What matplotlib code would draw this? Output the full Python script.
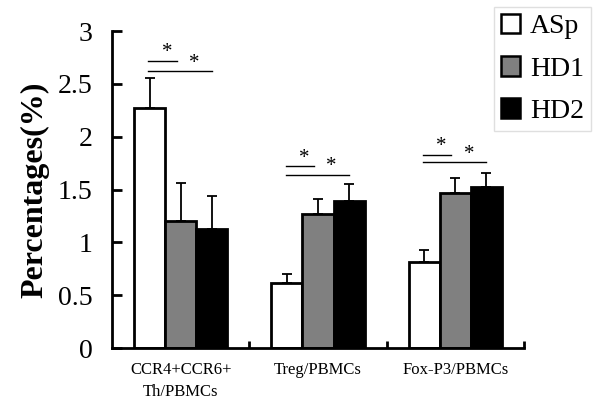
import matplotlib
matplotlib.use("Agg")
import matplotlib.pyplot as plt
import numpy as np

categories = ["CCR4+CCR6+\nTh/PBMCs", "Treg/PBMCs", "Fox-P3/PBMCs"]
series_names = ["ASp", "HD1", "HD2"]
asp = [2.27, 0.615, 0.81]
hd1 = [1.20, 1.27, 1.47]
hd2 = [1.13, 1.39, 1.52]
asp_err = [0.29, 0.085, 0.12]
hd1_err = [0.36, 0.14, 0.14]
hd2_err = [0.31, 0.16, 0.14]
yticks = [0, 0.5, 1, 1.5, 2, 2.5, 3]
ytick_labels = ["0", "0.5", "1", "1.5", "2", "2.5", "3"]
sig_short_y = [2.72, 1.72, 1.83]
sig_long_y = [2.62, 1.64, 1.76]

colors = ["white", "#808080", "black"]
plt.rcParams['font.family'] = ['Liberation Serif', 'DejaVu Serif']

fig = plt.figure(figsize=(6, 4.15), dpi=100)
ax = fig.add_axes([0.1867, 0.1614, 0.6866, 0.7636])

x = np.arange(len(categories))
w = 0.226
vals = [asp, hd1, hd2]
errs = [asp_err, hd1_err, hd2_err]
offsets = [-w, 0, w]
for i in range(3):
    ax.bar(x + offsets[i], vals[i], width=w, color=colors[i], edgecolor="black",
           linewidth=2, label=series_names[i], zorder=2)
    ax.errorbar(x + offsets[i], vals[i], yerr=[np.zeros(3), errs[i]], fmt="none",
                ecolor="black", elinewidth=1.3, capsize=3.5, capthick=1.3, zorder=1)

for g in range(3):
    x0 = x[g] + offsets[0] - 0.01
    ax.plot([x0, x[g] + offsets[1] - 0.03], [sig_short_y[g]] * 2, color="black", lw=1, clip_on=False)
    ax.plot([x0, x[g] + offsets[2]], [sig_long_y[g]] * 2, color="black", lw=1, clip_on=False)
    ax.text(x[g] - 0.1, sig_short_y[g] + 0.075, "*", ha="center", va="center", fontsize=15)
    ax.text(x[g] + 0.1, sig_long_y[g] + 0.075, "*", ha="center", va="center", fontsize=15)

ax.set_xlim(-0.5, 2.5)
ax.set_ylim(0, 3)
ax.set_yticks(yticks)
ax.set_yticklabels(ytick_labels, fontsize=20)
ax.set_xticks(x)
ax.set_xticklabels(categories, fontsize=12, linespacing=1.5)
ax.tick_params(axis="x", length=0, pad=10)
ax.set_xticks([0.5, 1.5, 2.5], minor=True)
ax.tick_params(axis="x", which="minor", direction="in", length=5, width=2)
ax.tick_params(axis="y", direction="in", length=7, width=2, pad=14)
for s in ["top", "right"]:
    ax.spines[s].set_visible(False)
for s in ["left", "bottom"]:
    ax.spines[s].set_linewidth(2)
ax.set_ylabel("Percentages(%)", fontsize=23, fontweight="bold", labelpad=6)

leg = fig.legend(loc="upper right", bbox_to_anchor=(0.985, 0.983), fontsize=20,
                 frameon=True, fancybox=False, edgecolor="#d8d8d8",
                 handlelength=0.7, handleheight=0.7, handletextpad=0.35,
                 labelspacing=0.6, borderpad=0.25, borderaxespad=0.0)
leg.get_frame().set_linewidth(1)
for h in leg.legend_handles:
    h.set_linewidth(1.8)

fig.savefig("out.png", dpi=100)
